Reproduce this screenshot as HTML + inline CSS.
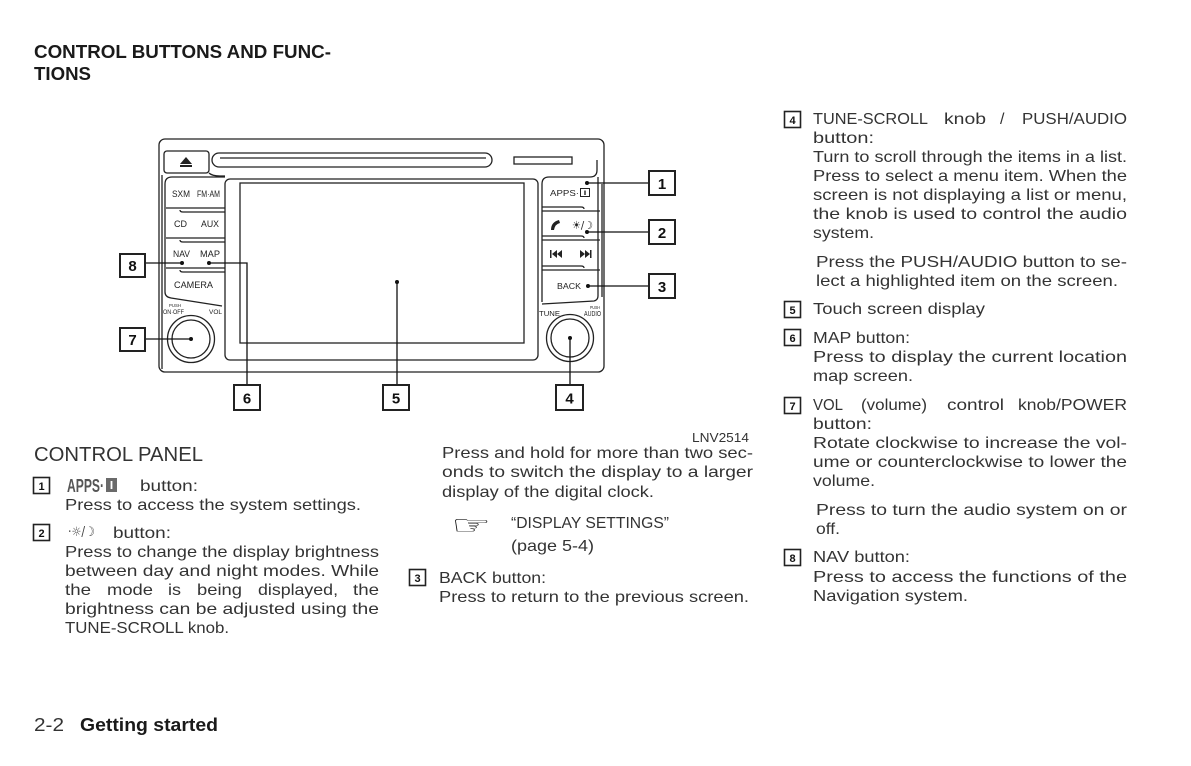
<!DOCTYPE html>
<html><head><meta charset="utf-8"><style>
html,body{margin:0;padding:0;background:#fff;}
svg{display:block;}
.t{font-family:"Liberation Sans","DejaVu Sans",sans-serif;font-size:16px;fill:#333;}
.d{font-family:"Liberation Sans",sans-serif;fill:#222;}
.ln{fill:none;stroke:#222;stroke-width:1.3;}
.bx{fill:#fff;stroke:#222;stroke-width:2;}
.sb{fill:#fff;stroke:#222;stroke-width:1.6;}
.bn{font-family:"Liberation Sans",sans-serif;font-weight:bold;font-size:15px;fill:#111;text-anchor:middle;}
.sn{font-family:"Liberation Sans",sans-serif;font-weight:bold;font-size:11px;fill:#111;text-anchor:middle;}
</style></head><body>
<svg width="1191" height="766" viewBox="0 0 1191 766" xmlns="http://www.w3.org/2000/svg">
<rect width="1191" height="766" fill="#fff"/>

<!-- Title -->
<text x="34" y="58" class="d" style="font-weight:bold;font-size:18.5px;fill:#1a1a1a" textLength="297" lengthAdjust="spacingAndGlyphs">CONTROL BUTTONS AND FUNC-</text>
<text x="34" y="80" class="d" style="font-weight:bold;font-size:18.5px;fill:#1a1a1a" textLength="57" lengthAdjust="spacingAndGlyphs">TIONS</text>

<!-- ===== Diagram ===== -->
<rect x="159" y="139" width="445" height="233" rx="6" class="ln"/>
<!-- eject -->
<rect x="164" y="151" width="45" height="22" rx="3" class="ln"/>
<polygon points="180,164 186,157 192,164" fill="#222"/>
<rect x="180" y="165" width="12" height="2" fill="#222"/>
<!-- slot -->
<rect x="212" y="153" width="280" height="14" rx="7" class="ln"/>
<path d="M220 158 L486 158" class="ln" stroke-width="1"/>
<!-- small rect -->
<rect x="514" y="157" width="58" height="7" class="ln"/>
<!-- ledge lines -->
<path d="M162 175 L162 369" class="ln" stroke-width="1"/>
<path d="M209 173 Q212 176 220 176 L225 176" class="ln" stroke-width="1"/>

<!-- left button panel -->
<path d="M225 177 L172 177 Q165 177 165 184 L165 292 Q165 297 171 298 L222 306" class="ln"/>
<path d="M166 208 L225 208 M225 212 L183 212 Q180 212 180 210" class="ln" stroke-width="1.1"/>
<path d="M166 238 L225 238 M225 242 L183 242 Q180 242 180 240" class="ln" stroke-width="1.1"/>
<path d="M166 268 L225 268 M225 272 L183 272 Q180 272 180 270" class="ln" stroke-width="1.1"/>
<text x="172" y="197" class="d" font-size="9" textLength="18" lengthAdjust="spacingAndGlyphs">SXM</text>
<text x="197" y="197" class="d" font-size="9" textLength="23" lengthAdjust="spacingAndGlyphs">FM·AM</text>
<text x="174" y="227" class="d" font-size="9" textLength="13" lengthAdjust="spacingAndGlyphs">CD</text>
<text x="201" y="227" class="d" font-size="9" textLength="18" lengthAdjust="spacingAndGlyphs">AUX</text>
<text x="173" y="257" class="d" font-size="9" textLength="17" lengthAdjust="spacingAndGlyphs">NAV</text>
<text x="200" y="257" class="d" font-size="9" textLength="20" lengthAdjust="spacingAndGlyphs">MAP</text>
<text x="174" y="288" class="d" font-size="9" textLength="39" lengthAdjust="spacingAndGlyphs">CAMERA</text>
<text x="169" y="307" class="d" font-size="4.5" textLength="12" lengthAdjust="spacingAndGlyphs">PUSH</text>
<text x="163" y="314" class="d" font-size="6" textLength="21" lengthAdjust="spacingAndGlyphs">ON·OFF</text>
<text x="209" y="314" class="d" font-size="6" textLength="13" lengthAdjust="spacingAndGlyphs">VOL</text>

<!-- screen -->
<rect x="225" y="179" width="313" height="181" rx="5" class="ln"/>
<rect x="240" y="183" width="284" height="160" class="ln" stroke-width="1.1"/>

<!-- right button panel -->
<path d="M542 302 L542 184 Q542 177 549 177 L590 177 Q597 177 597 170 L597 160" class="ln"/>
<path d="M598 177 L598 296 Q598 300 594 301 L542 304" class="ln" stroke-width="1.1"/>
<path d="M602 184 L602 297" class="ln" stroke-width="1.1"/>
<path d="M542 207 L581 207 Q584 207 584 209 M542 211 L600 211" class="ln" stroke-width="1.1"/>
<path d="M542 236 L581 236 Q584 236 584 238 M542 240 L600 240" class="ln" stroke-width="1.1"/>
<path d="M542 266 L581 266 Q584 266 584 268 M542 270 L600 270" class="ln" stroke-width="1.1"/>
<text x="550" y="196" class="d" font-size="8.5" textLength="29" lengthAdjust="spacingAndGlyphs">APPS·</text>
<rect x="580.5" y="188.5" width="9" height="8" fill="none" stroke="#222" stroke-width="1"/>
<rect x="584.3" y="190.5" width="1.4" height="4.5" fill="#222"/>
<!-- phone -->
<path d="M551 230 Q551 222 559 220 L560 223 Q555 224 554 230 Z" fill="#222"/>
<text x="572" y="229" style="font-family:'DejaVu Sans',sans-serif;font-size:11px;fill:#222" textLength="21" lengthAdjust="spacingAndGlyphs">☀/☽</text>
<!-- skip -->
<rect x="550" y="250" width="1.5" height="8" fill="#222"/>
<polygon points="552,254 557,250 557,258" fill="#222"/>
<polygon points="557,254 562,250 562,258" fill="#222"/>
<polygon points="580,250 585,254 580,258" fill="#222"/>
<polygon points="585,250 590,254 585,258" fill="#222"/>
<rect x="590" y="250" width="1.5" height="8" fill="#222"/>
<text x="557" y="289" class="d" font-size="8.5" textLength="24" lengthAdjust="spacingAndGlyphs">BACK</text>
<text x="539" y="316" class="d" font-size="7" textLength="21" lengthAdjust="spacingAndGlyphs">TUNE</text>
<text x="590" y="309" class="d" font-size="4.5" textLength="10" lengthAdjust="spacingAndGlyphs">PUSH</text>
<text x="584" y="316" class="d" font-size="7" textLength="17" lengthAdjust="spacingAndGlyphs">AUDIO</text>

<!-- knobs -->
<circle cx="191" cy="339" r="23.5" class="ln"/>
<circle cx="191" cy="339" r="19" class="ln" stroke-width="1.1"/>
<circle cx="570" cy="338" r="23.5" class="ln"/>
<circle cx="570" cy="338" r="19" class="ln" stroke-width="1.1"/>

<!-- callout leaders -->
<g stroke="#111" stroke-width="1.3" fill="none">
<path d="M587 183 L649 183"/>
<path d="M587 232 L649 232"/>
<path d="M588 286 L649 286"/>
<path d="M570 338 L570 385"/>
<path d="M397 282 L397 385"/>
<path d="M209 263 L247 263 L247 385"/>
<path d="M191 339 L145 339"/>
<path d="M182 263 L145 263"/>
</g>
<g fill="#111">
<circle cx="587" cy="183" r="2"/><circle cx="587" cy="232" r="2"/><circle cx="588" cy="286" r="2"/>
<circle cx="570" cy="338" r="2"/><circle cx="397" cy="282" r="2"/><circle cx="209" cy="263" r="2"/>
<circle cx="191" cy="339" r="2"/><circle cx="182" cy="263" r="2"/>
</g>
<!-- callout boxes -->
<rect x="649" y="171" width="26" height="24" class="bx"/><text x="662" y="189" class="bn">1</text>
<rect x="649" y="220" width="26" height="24" class="bx"/><text x="662" y="238" class="bn">2</text>
<rect x="649" y="274" width="26" height="24" class="bx"/><text x="662" y="292" class="bn">3</text>
<rect x="556" y="385" width="27" height="25" class="bx"/><text x="569.5" y="403.5" class="bn">4</text>
<rect x="383" y="385" width="26" height="25" class="bx"/><text x="396" y="403.5" class="bn">5</text>
<rect x="234" y="385" width="26" height="25" class="bx"/><text x="247" y="403.5" class="bn">6</text>
<rect x="120" y="328" width="25" height="23" class="bx"/><text x="132.5" y="345" class="bn">7</text>
<rect x="120" y="254" width="25" height="23" class="bx"/><text x="132.5" y="271" class="bn">8</text>

<!-- ===== Left column ===== -->
<text x="34" y="461" class="t" style="font-size:20px" textLength="169" lengthAdjust="spacingAndGlyphs">CONTROL PANEL</text>
<rect x="33.5" y="477.5" width="16" height="16" class="sb"/><text x="41.5" y="490" class="sn">1</text>
<text x="67" y="492" class="d" style="font-weight:bold;font-size:18px;fill:#555" textLength="37" lengthAdjust="spacingAndGlyphs">APPS·</text>
<rect x="106" y="478" width="11" height="14" fill="#6a6a6a"/><rect x="110.6" y="481" width="1.8" height="8" fill="#fff"/>
<text x="140" y="491" class="t" textLength="58" lengthAdjust="spacingAndGlyphs">button:</text>
<text x="65" y="510" class="t" textLength="296" lengthAdjust="spacingAndGlyphs">Press to access the system settings.</text>

<rect x="33.5" y="524.5" width="16" height="16" class="sb"/><text x="41.5" y="537" class="sn">2</text>
<text x="68" y="536" style="font-family:'DejaVu Sans',sans-serif;font-size:13px;fill:#444" textLength="27" lengthAdjust="spacingAndGlyphs">·☼/☽</text>
<text x="113" y="538" class="t" textLength="58" lengthAdjust="spacingAndGlyphs">button:</text>
<text x="65" y="557" class="t" textLength="314" lengthAdjust="spacingAndGlyphs">Press to change the display brightness</text>
<text x="65" y="576" class="t" textLength="314" lengthAdjust="spacingAndGlyphs">between day and night modes. While</text>
<text x="65" y="595" class="t" textLength="26" lengthAdjust="spacingAndGlyphs">the</text>
<text x="107" y="595" class="t" textLength="46" lengthAdjust="spacingAndGlyphs">mode</text>
<text x="168" y="595" class="t" textLength="13" lengthAdjust="spacingAndGlyphs">is</text>
<text x="197" y="595" class="t" textLength="45" lengthAdjust="spacingAndGlyphs">being</text>
<text x="258" y="595" class="t" textLength="80" lengthAdjust="spacingAndGlyphs">displayed,</text>
<text x="353" y="595" class="t" textLength="26" lengthAdjust="spacingAndGlyphs">the</text>
<text x="65" y="614" class="t" textLength="314" lengthAdjust="spacingAndGlyphs">brightness can be adjusted using the</text>
<text x="65" y="633" class="t" textLength="164" lengthAdjust="spacingAndGlyphs">TUNE-SCROLL knob.</text>

<!-- ===== Middle column ===== -->
<text x="692" y="442" class="t" style="font-size:13px" textLength="57" lengthAdjust="spacingAndGlyphs">LNV2514</text>
<text x="442" y="458" class="t" textLength="311" lengthAdjust="spacingAndGlyphs">Press and hold for more than two sec-</text>
<text x="442" y="477" class="t" textLength="311" lengthAdjust="spacingAndGlyphs">onds to switch the display to a larger</text>
<text x="442" y="497" class="t" textLength="212" lengthAdjust="spacingAndGlyphs">display of the digital clock.</text>
<text x="451" y="534" style="font-family:'DejaVu Sans',sans-serif;font-size:26px;fill:#111" textLength="40" lengthAdjust="spacingAndGlyphs">☞</text>
<text x="511" y="528" class="t" textLength="158" lengthAdjust="spacingAndGlyphs">“DISPLAY SETTINGS”</text>
<text x="511" y="551" class="t" textLength="83" lengthAdjust="spacingAndGlyphs">(page 5-4)</text>
<rect x="409.5" y="569.5" width="16" height="16" class="sb"/><text x="417.5" y="582" class="sn">3</text>
<text x="439" y="583" class="t" textLength="107" lengthAdjust="spacingAndGlyphs">BACK button:</text>
<text x="439" y="602" class="t" textLength="310" lengthAdjust="spacingAndGlyphs">Press to return to the previous screen.</text>

<!-- ===== Right column ===== -->
<rect x="784.5" y="111.5" width="16" height="16" class="sb"/><text x="792.5" y="124" class="sn">4</text>
<text x="813" y="124" class="t" textLength="115" lengthAdjust="spacingAndGlyphs">TUNE-SCROLL</text>
<text x="944" y="124" class="t" textLength="42" lengthAdjust="spacingAndGlyphs">knob</text>
<text x="1000" y="124" class="t">/</text>
<text x="1022" y="124" class="t" textLength="105" lengthAdjust="spacingAndGlyphs">PUSH/AUDIO</text>
<text x="813" y="143" class="t" textLength="61" lengthAdjust="spacingAndGlyphs">button:</text>
<text x="813" y="162" class="t" textLength="314" lengthAdjust="spacingAndGlyphs">Turn to scroll through the items in a list.</text>
<text x="813" y="181" class="t" textLength="314" lengthAdjust="spacingAndGlyphs">Press to select a menu item. When the</text>
<text x="813" y="200" class="t" textLength="314" lengthAdjust="spacingAndGlyphs">screen is not displaying a list or menu,</text>
<text x="813" y="219" class="t" textLength="314" lengthAdjust="spacingAndGlyphs">the knob is used to control the audio</text>
<text x="813" y="238" class="t" textLength="61" lengthAdjust="spacingAndGlyphs">system.</text>
<text x="816" y="267" class="t" textLength="311" lengthAdjust="spacingAndGlyphs">Press the PUSH/AUDIO button to se-</text>
<text x="816" y="286" class="t" textLength="302" lengthAdjust="spacingAndGlyphs">lect a highlighted item on the screen.</text>

<rect x="784.5" y="301.5" width="16" height="16" class="sb"/><text x="792.5" y="314" class="sn">5</text>
<text x="813" y="314" class="t" textLength="172" lengthAdjust="spacingAndGlyphs">Touch screen display</text>

<rect x="784.5" y="329.5" width="16" height="16" class="sb"/><text x="792.5" y="342" class="sn">6</text>
<text x="813" y="343" class="t" textLength="97" lengthAdjust="spacingAndGlyphs">MAP button:</text>
<text x="813" y="362" class="t" textLength="314" lengthAdjust="spacingAndGlyphs">Press to display the current location</text>
<text x="813" y="381" class="t" textLength="100" lengthAdjust="spacingAndGlyphs">map screen.</text>

<rect x="784.5" y="397.5" width="16" height="16" class="sb"/><text x="792.5" y="410" class="sn">7</text>
<text x="813" y="410" class="t" textLength="30" lengthAdjust="spacingAndGlyphs">VOL</text>
<text x="861" y="410" class="t" textLength="66" lengthAdjust="spacingAndGlyphs">(volume)</text>
<text x="947" y="410" class="t" textLength="57" lengthAdjust="spacingAndGlyphs">control</text>
<text x="1018" y="410" class="t" textLength="109" lengthAdjust="spacingAndGlyphs">knob/POWER</text>
<text x="813" y="429" class="t" textLength="59" lengthAdjust="spacingAndGlyphs">button:</text>
<text x="813" y="448" class="t" textLength="314" lengthAdjust="spacingAndGlyphs">Rotate clockwise to increase the vol-</text>
<text x="813" y="467" class="t" textLength="314" lengthAdjust="spacingAndGlyphs">ume or counterclockwise to lower the</text>
<text x="813" y="486" class="t" textLength="62" lengthAdjust="spacingAndGlyphs">volume.</text>
<text x="816" y="515" class="t" textLength="311" lengthAdjust="spacingAndGlyphs">Press to turn the audio system on or</text>
<text x="816" y="534" class="t" textLength="24" lengthAdjust="spacingAndGlyphs">off.</text>

<rect x="784.5" y="549.5" width="16" height="16" class="sb"/><text x="792.5" y="562" class="sn">8</text>
<text x="813" y="562" class="t" textLength="97" lengthAdjust="spacingAndGlyphs">NAV button:</text>
<text x="813" y="582" class="t" textLength="314" lengthAdjust="spacingAndGlyphs">Press to access the functions of the</text>
<text x="813" y="601" class="t" textLength="155" lengthAdjust="spacingAndGlyphs">Navigation system.</text>

<!-- footer -->
<text x="34" y="731" class="t" style="font-size:18px;fill:#333" textLength="30" lengthAdjust="spacingAndGlyphs">2-2</text>
<text x="80" y="731" class="d" style="font-weight:bold;font-size:18px;fill:#1a1a1a" textLength="138" lengthAdjust="spacingAndGlyphs">Getting started</text>
</svg>
</body></html>
